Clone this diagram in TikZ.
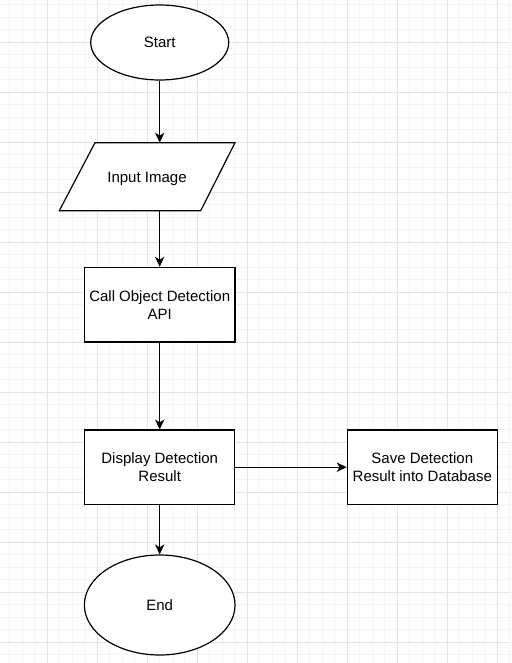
\documentclass[tikz,border=0pt]{standalone}
\usepackage{fontspec}
\setmainfont{Liberation Sans}
\usetikzlibrary{arrows.meta,shapes.geometric}
\definecolor{gridminor}{HTML}{F4F4F4}
\definecolor{gridmajor}{HTML}{E4E4E4}
\begin{document}
\begin{tikzpicture}[x=0.75pt,y=-0.75pt,
  txt/.style={font=\fontsize{11.25pt}{13.5pt}\selectfont,align=center,text=black},
  term/.style={ellipse,draw=black,fill=white,line width=0.9pt,inner sep=0pt,txt},
  proc/.style={rectangle,draw=black,fill=white,line width=0.9pt,inner sep=0pt,txt},
  flow/.style={draw=black,line width=0.9pt,-{Stealth[length=7.5pt,width=7pt,inset=2.2pt]}}]
\useasboundingbox (0,0) rectangle (511,663);
\fill[white] (0,0) rectangle (511,663);
% grid
\foreach \i in {0,...,40} {
  \draw[gridminor,line width=0.75pt] ({9.8+12.5*\i},0) -- ({9.8+12.5*\i},663);
}
\foreach \i in {0,...,53} {
  \draw[gridminor,line width=0.75pt] (0,{4.8+12.5*\i}) -- (511,{4.8+12.5*\i});
}
\foreach \i in {0,...,10} {
  \draw[gridmajor,line width=0.75pt] ({47.3+50*\i},0) -- ({47.3+50*\i},663);
}
\foreach \i in {0,...,12} {
  \draw[gridmajor,line width=0.75pt] (0,{42.3+50*\i}) -- (511,{42.3+50*\i});
}
% shapes
\node[term,minimum width=103.5pt,minimum height=56.25pt] (start) at (159.7,42.5) {Start};
\draw[black,fill=white,line width=0.9pt] (95,142.7) -- (235,142.7) -- (200.7,210.7) -- (59.3,210.7) -- cycle;
\node[txt] (input) at (147,178.5) {Input Image};
\coordinate (inT) at (159.7,142.7);
\coordinate (inB) at (159.7,210.7);
\node[proc,minimum width=113pt,minimum height=56pt] (call) at (159.7,304.7) {Call Object Detection\\API};
\node[proc,minimum width=112.5pt,minimum height=55.7pt] (disp) at (159.7,467.2) {Display Detection\\Result};
\node[proc,minimum width=112.5pt,minimum height=55.7pt] (save) at (422.3,467.2) {Save Detection\\Result into Database};
\node[term,minimum width=113pt,minimum height=75pt] (end) at (159.7,605) {End};
% connectors
\draw[flow] (start.south) -- (inT);
\draw[flow] (inB) -- (call.north);
\draw[flow] (call.south) -- (disp.north);
\draw[flow] (disp.south) -- (end.north);
\draw[flow] (disp.east) -- (save.west);
\end{tikzpicture}
\end{document}
